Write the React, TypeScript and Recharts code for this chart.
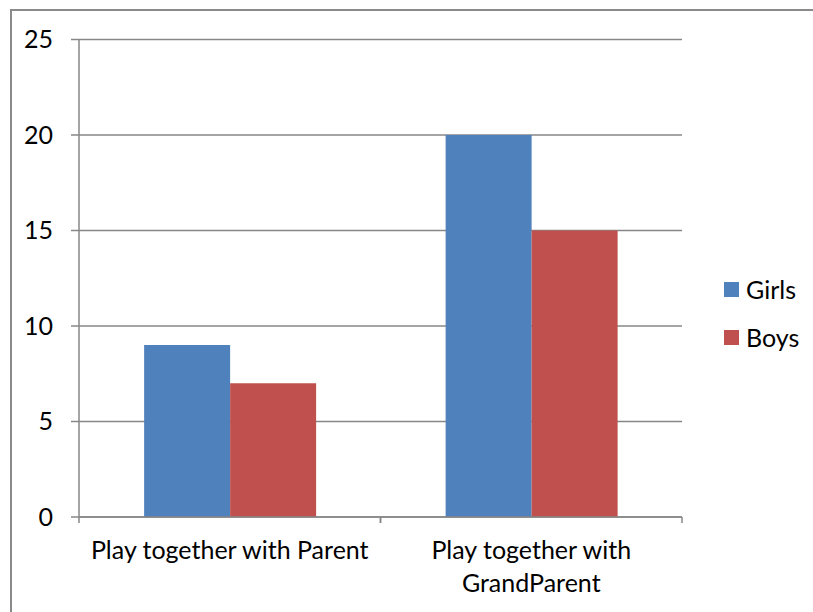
import React from 'react';
import { BarChart, Bar, XAxis, YAxis, CartesianGrid, Legend } from 'recharts';

// Categories and series values
const categories = ['Play together with Parent', 'Play together with GrandParent'];
const girls = [9, 20];
const boys = [7, 15];
const yTicks = [0, 5, 10, 15, 20, 25];
// Category tick labels as they are broken across lines
const categoryTickLines = [['Play together with Parent'], ['Play together with', 'GrandParent']];

const seriesOrder = ['girls', 'boys'];
const seriesNames = { girls: 'Girls', boys: 'Boys' };
const colors = { girls: '#4F81BD', boys: '#C0504D' };

const data = categories.map((name, i) => ({ name, girls: girls[i], boys: boys[i] }));

const FONT = 'Lato, Carlito, Calibri, "Open Sans", sans-serif';
const GRID = '#878787';

// Category label plus tick marks at the category boundaries
const CategoryTick = (props: any) => {
  const { x, y, payload, width, visibleTicksCount, index } = props;
  const half =
    payload && typeof payload.offset === 'number' && payload.offset > 0
      ? payload.offset
      : width / (visibleTicksCount || 1) / 2;
  const lines = categoryTickLines[index] || [String(payload.value)];
  return (
    <g>
      <line x1={x - half} x2={x - half} y1={y} y2={y + 6} stroke={GRID} strokeWidth={1.5} />
      <line x1={x + half} x2={x + half} y1={y} y2={y + 6} stroke={GRID} strokeWidth={1.5} />
      <text
        x={x}
        y={y + 42}
        textAnchor="middle"
        style={{ fontSize: 25, fontFamily: FONT, fill: '#000' }}
      >
        {lines.map((line: string, i: number) => (
          <tspan key={i} x={x} dy={i === 0 ? 0 : 33}>
            {line}
          </tspan>
        ))}
      </text>
    </g>
  );
};

const LegendList = (props: any) => {
  const { payload } = props;
  const items = [...(payload || [])].sort(
    (a: any, b: any) => seriesOrder.indexOf(a.dataKey) - seriesOrder.indexOf(b.dataKey),
  );
  return (
    <div style={{ fontFamily: FONT }}>
      {items.map((entry: any) => (
        <div key={entry.value} style={{ height: 48, display: 'flex', alignItems: 'center' }}>
          <div style={{ width: 15, height: 15, background: entry.color, marginRight: 7 }} />
          <span style={{ fontSize: 25, lineHeight: '25px', color: '#000' }}>{entry.value}</span>
        </div>
      ))}
    </div>
  );
};

export default function App() {
  return (
    <div style={{ position: 'absolute', left: 0, top: 0, width: 813, height: 612, overflow: 'hidden', background: '#fff' }}>
      <div
        style={{
          position: 'absolute',
          left: 10,
          top: 9,
          width: 900,
          height: 800,
          borderLeft: '2px solid #8a8a8a',
          borderTop: '2px solid #8a8a8a',
        }}
      />
      <div style={{ position: 'absolute', left: 0, top: 0 }}>
        <BarChart
          width={813}
          height={612}
          data={data}
          margin={{ top: 39.5, right: 131, bottom: 0, left: 0 }}
          barCategoryGap="21.6%"
          barGap={0}
        >
          <CartesianGrid horizontal vertical={false} stroke={GRID} strokeWidth={1.5} />
          <XAxis
            dataKey="name"
            height={95}
            axisLine={{ stroke: GRID, strokeWidth: 1.5 }}
            tickLine={false}
            tickMargin={0}
            tickSize={0}
            tick={<CategoryTick />}
            interval={0}
          />
          <YAxis
            width={79}
            domain={[0, 25]}
            ticks={yTicks}
            interval={0}
            axisLine={{ stroke: GRID, strokeWidth: 1.5 }}
            tickLine={{ stroke: GRID, strokeWidth: 1.5 }}
            tickSize={8}
            tickMargin={18}
            tick={{ fontSize: 25, fontFamily: FONT, fill: '#000' }}
          />
          <Legend
            layout="vertical"
            align="center"
            verticalAlign="middle"
            content={<LegendList />}
            wrapperStyle={{ left: 724, top: 265, width: 88 }}
          />
          <Bar dataKey="girls" name={seriesNames.girls} fill={colors.girls} isAnimationActive={false} />
          <Bar dataKey="boys" name={seriesNames.boys} fill={colors.boys} isAnimationActive={false} />
        </BarChart>
      </div>
    </div>
  );
}
